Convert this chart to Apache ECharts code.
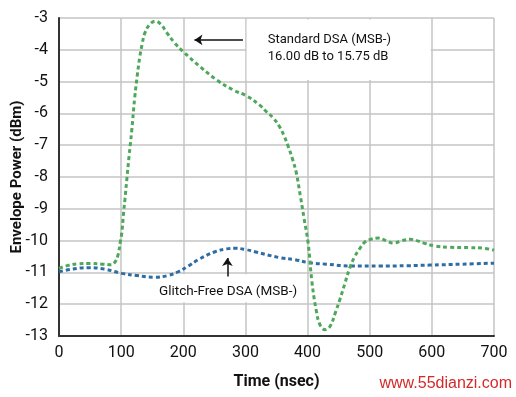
<!DOCTYPE html>
<html lang="en">
  <head>
    <meta charset="UTF-8" />
    <title>Envelope Power</title>
    <script src="https://cdn.jsdelivr.net/npm/echarts@6/dist/echarts.min.js"></script>
    <style>
      html, body { margin: 0; padding: 0; background: #fff; }
      #main { width: 516px; height: 397px; }
    </style>
  </head>
  <body>
    <div id="main"></div>
    <script>
      // Standard DSA (MSB-) trace
      var stdTime = [0, 15, 30, 50, 70, 84, 90, 95, 99, 101, 104, 106, 109, 113, 117, 122, 126, 130, 134, 138, 146, 155, 164, 173, 186, 200, 227, 254, 280, 302, 323, 334, 345, 355, 362, 369, 376, 382, 388, 394, 401, 407, 414, 420, 428, 436, 445, 452, 460, 468, 476, 484, 492, 500, 514, 526, 538, 552, 565, 576, 586, 605, 629, 660, 683, 700];
      var stdPower = [-10.87, -10.78, -10.73, -10.72, -10.74, -10.76, -10.68, -10.45, -10.0, -9.77, -9.1, -8.72, -8.1, -7.3, -6.55, -5.47, -4.8, -4.22, -3.8, -3.48, -3.2, -3.1, -3.2, -3.45, -3.78, -4.06, -4.53, -4.95, -5.26, -5.45, -5.74, -5.95, -6.15, -6.42, -6.7, -7.05, -7.45, -7.88, -8.55, -9.26, -10.09, -11.3, -12.2, -12.65, -12.8, -12.7, -12.25, -11.85, -11.35, -10.85, -10.5, -10.25, -10.05, -9.97, -9.92, -10.0, -10.08, -10.0, -9.96, -10.0, -10.07, -10.17, -10.21, -10.22, -10.24, -10.3];

      // Glitch-Free DSA (MSB-) trace
      var gfTime = [0, 20, 47, 74, 101, 125, 154, 175, 192, 208, 224, 251, 270, 283, 300, 315, 356, 380, 401, 430, 471, 516, 560, 597, 650, 700];
      var gfPower = [-10.98, -10.9, -10.85, -10.9, -11.03, -11.1, -11.15, -11.1, -10.98, -10.8, -10.6, -10.35, -10.26, -10.24, -10.28, -10.35, -10.54, -10.6, -10.69, -10.74, -10.8, -10.8, -10.79, -10.77, -10.74, -10.71];

      var xTicks = [0, 100, 200, 300, 400, 500, 600, 700];
      var yTicks = [-13, -12, -11, -10, -9, -8, -7, -6, -5, -4, -3];

      var narrow = "Roboto, 'Liberation Sans', sans-serif";

      function pairs(xs, ys) {
        return xs.map(function (x, i) {
          return [x, ys[i]];
        });
      }

      var myChart = echarts.init(document.getElementById("main"));

      var option = {
        animation: false,
        backgroundColor: "#fff",
        grid: { left: 59, right: 22, top: 18, bottom: 61, outerBoundsMode: "none" },
        xAxis: {
          type: "value",
          min: xTicks[0],
          max: xTicks[xTicks.length - 1],
          interval: 100,
          name: "Time (nsec)",
          nameLocation: "middle",
          nameGap: 38,
          nameMoveOverlap: false,
          nameTextStyle: { fontFamily: narrow, fontWeight: "bold", fontSize: 16, color: "#111" },
          axisLine: { onZero: false, lineStyle: { color: "#333", width: 2 } },
          axisTick: { show: false },
          axisLabel: { fontFamily: narrow, fontSize: 16, color: "#111", margin: 9 },
          splitLine: { lineStyle: { color: "#c4c4c4", width: 1.5 } },
        },
        yAxis: {
          type: "value",
          min: yTicks[0],
          max: yTicks[yTicks.length - 1],
          interval: 1,
          name: "Envelope Power (dBm)",
          nameLocation: "middle",
          nameGap: 34,
          nameMoveOverlap: false,
          nameTextStyle: { fontFamily: narrow, fontWeight: "bold", fontSize: 15, color: "#111" },
          axisLine: { onZero: false, lineStyle: { color: "#333", width: 2 } },
          axisTick: { show: false },
          axisLabel: { fontFamily: narrow, fontSize: 16, color: "#111", margin: 11 },
          splitLine: { lineStyle: { color: "#c4c4c4", width: 1.5 } },
        },
        series: [
          {
            name: "Glitch-Free DSA (MSB-)",
            type: "line",
            data: pairs(gfTime, gfPower),
            smooth: 0.4,
            showSymbol: false,
            lineStyle: { color: "#2e6ca4", width: 3, type: [4, 3] },
            markArea: {
              silent: true,
              itemStyle: { color: "#fff", opacity: 1 },
              data: [
                [{ coord: [302, -3.05] }, { coord: [598, -4.95] }],
                [{ coord: [155, -11.06] }, { coord: [305, -11.94] }],
              ],
            },
          },
          {
            name: "Standard DSA (MSB-)",
            type: "line",
            data: pairs(stdTime, stdPower),
            smooth: 0.4,
            showSymbol: false,
            lineStyle: { color: "#4ea85c", width: 3, type: [4, 3] },
            markLine: {
              silent: true,
              symbol: ["none", "arrow"],
              symbolSize: 8,
              label: { show: false },
              lineStyle: { color: "#111", width: 1.5, type: "solid" },
              data: [
                [{ coord: [296, -3.69] }, { coord: [218, -3.69] }],
                [{ coord: [271, -11.13] }, { coord: [271, -10.55] }],
              ],
            },
            markPoint: {
              silent: true,
              symbol: "circle",
              symbolSize: 0,
              label: {
                show: true,
                fontFamily: narrow,
                fontSize: 13,
                color: "#111",
                lineHeight: 17,
                formatter: "{b}",
              },
              data: [
                {
                  name: "Standard DSA (MSB-)\n16.00 dB to 15.75 dB",
                  coord: [336, -3.96],
                  label: { position: "right", distance: 0 },
                },
                {
                  name: "Glitch-Free DSA (MSB-)",
                  coord: [272, -11.6],
                  label: { position: "inside", fontSize: 13.5 },
                },
              ],
            },
          },
        ],
        graphic: [
          {
            type: "text",
            right: 4,
            bottom: 5,
            style: {
              text: "www.55dianzi.com",
              fill: "#d42a2a",
              font: "16px 'Liberation Sans', sans-serif",
            },
          },
        ],
      };

      myChart.setOption(option);
    </script>
  </body>
</html>
